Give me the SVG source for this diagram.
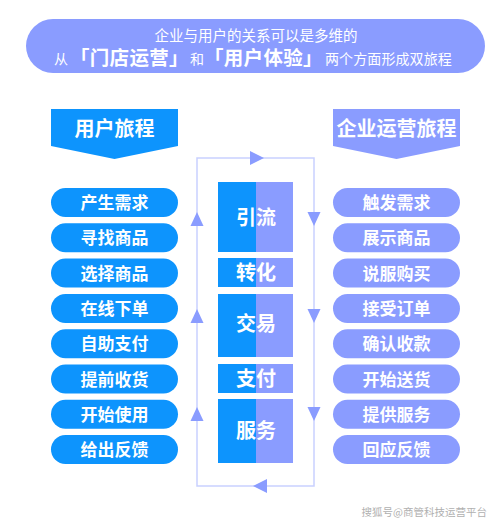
<svg xmlns="http://www.w3.org/2000/svg" width="500" height="522" viewBox="0 0 500 522">
<style>
text{font-family:"Noto Sans CJK SC","Noto Sans",sans-serif;fill:#fff}
.b{fill:#0d94fd}
.p{fill:#8a9cff}
.t{font-size:17px;font-weight:bold;text-anchor:middle}
.h{font-size:20px;font-weight:bold;text-anchor:middle}
.c{font-size:20px;font-weight:bold;text-anchor:middle}
.loop{fill:none;stroke:#c9d1ff;stroke-width:1.5}
.arr{fill:#8a9cff}
</style>
<rect width="500" height="522" fill="#fff"/>
<g id="banner">
<rect x="26" y="19" width="459" height="54" rx="27" class="p"/>
<text x="256" y="40.5" font-size="14.5" text-anchor="middle">企业与用户的关系可以是多维的</text>
<text y="63.5" font-size="14"><tspan x="54">从</tspan><tspan x="70" font-size="19.5" font-weight="bold" y="64.5" letter-spacing="0.3">「门店运营」</tspan><tspan x="190" y="63.5">和</tspan><tspan x="204" font-size="19.5" font-weight="bold" y="64.5" letter-spacing="0.3">「用户体验」</tspan><tspan x="325" y="63.5" letter-spacing="0.1">两个方面形成双旅程</tspan></text>
</g>
<g id="header-user">
<path d="M51,109H178V146L114.5,159L51,146Z" class="b"/>
<text x="114.5" y="135.5" class="h">用户旅程</text>
</g>
<g id="header-biz">
<path d="M333,109H460V146L396.5,159L333,146Z" class="p"/>
<text x="396.5" y="135.5" class="h">企业运营旅程</text>
</g>
<g id="connectors">
<path class="loop" d="M197,158H314V486H197Z"/>
<polygon class="arr" points="250,151 250,165 264,158"/>
<polygon class="arr" points="267,479 267,493 253,486"/>
<polygon class="arr" points="197,212 190.5,226 203.5,226"/>
<polygon class="arr" points="197,309 190.5,323 203.5,323"/>
<polygon class="arr" points="197,407 190.5,421 203.5,421"/>
<polygon class="arr" points="307.5,212 320.5,212 314,226"/>
<polygon class="arr" points="307.5,309 320.5,309 314,323"/>
<polygon class="arr" points="307.5,407 320.5,407 314,421"/>
</g>
<g id="user-steps">
<g id="u1"><rect x="51" y="188" width="127" height="29" rx="14.5" class="b"/><text x="114.5" y="209" class="t">产生需求</text></g>
<g id="u2"><rect x="51" y="223.3" width="127" height="29" rx="14.5" class="b"/><text x="114.5" y="244.3" class="t">寻找商品</text></g>
<g id="u3"><rect x="51" y="258.6" width="127" height="29" rx="14.5" class="b"/><text x="114.5" y="279.6" class="t">选择商品</text></g>
<g id="u4"><rect x="51" y="293.9" width="127" height="29" rx="14.5" class="b"/><text x="114.5" y="314.9" class="t">在线下单</text></g>
<g id="u5"><rect x="51" y="329.2" width="127" height="29" rx="14.5" class="b"/><text x="114.5" y="350.2" class="t">自助支付</text></g>
<g id="u6"><rect x="51" y="364.5" width="127" height="29" rx="14.5" class="b"/><text x="114.5" y="385.5" class="t">提前收货</text></g>
<g id="u7"><rect x="51" y="399.8" width="127" height="29" rx="14.5" class="b"/><text x="114.5" y="420.8" class="t">开始使用</text></g>
<g id="u8"><rect x="51" y="435.1" width="127" height="29" rx="14.5" class="b"/><text x="114.5" y="456.1" class="t">给出反馈</text></g>
</g>
<g id="biz-steps">
<g id="b1"><rect x="333" y="188" width="127" height="29" rx="14.5" class="p"/><text x="396.5" y="209" class="t">触发需求</text></g>
<g id="b2"><rect x="333" y="223.3" width="127" height="29" rx="14.5" class="p"/><text x="396.5" y="244.3" class="t">展示商品</text></g>
<g id="b3"><rect x="333" y="258.6" width="127" height="29" rx="14.5" class="p"/><text x="396.5" y="279.6" class="t">说服购买</text></g>
<g id="b4"><rect x="333" y="293.9" width="127" height="29" rx="14.5" class="p"/><text x="396.5" y="314.9" class="t">接受订单</text></g>
<g id="b5"><rect x="333" y="329.2" width="127" height="29" rx="14.5" class="p"/><text x="396.5" y="350.2" class="t">确认收款</text></g>
<g id="b6"><rect x="333" y="364.5" width="127" height="29" rx="14.5" class="p"/><text x="396.5" y="385.5" class="t">开始送货</text></g>
<g id="b7"><rect x="333" y="399.8" width="127" height="29" rx="14.5" class="p"/><text x="396.5" y="420.8" class="t">提供服务</text></g>
<g id="b8"><rect x="333" y="435.1" width="127" height="29" rx="14.5" class="p"/><text x="396.5" y="456.1" class="t">回应反馈</text></g>
</g>
<g id="stage-yinliu"><rect x="218" y="182" width="38" height="70" class="b"/><rect x="256" y="182" width="37" height="70" class="p"/><text x="256" y="224.5" class="c">引流</text></g>
<g id="stage-zhuanhua"><rect x="218" y="258" width="38" height="29" class="b"/><rect x="256" y="258" width="37" height="29" class="p"/><text x="256" y="280" class="c">转化</text></g>
<g id="stage-jiaoyi"><rect x="218" y="294" width="38" height="63" class="b"/><rect x="256" y="294" width="37" height="63" class="p"/><text x="256" y="331" class="c">交易</text></g>
<g id="stage-zhifu"><rect x="218" y="364" width="38" height="29" class="b"/><rect x="256" y="364" width="37" height="29" class="p"/><text x="256" y="386" class="c">支付</text></g>
<g id="stage-fuwu"><rect x="218" y="399" width="38" height="64" class="b"/><rect x="256" y="399" width="37" height="64" class="p"/><text x="256" y="437.5" class="c">服务</text></g>
<text x="487" y="516" font-size="10.5" text-anchor="end" style="fill:#b0b0b0">搜狐号@商管科技运营平台</text>
</svg>
